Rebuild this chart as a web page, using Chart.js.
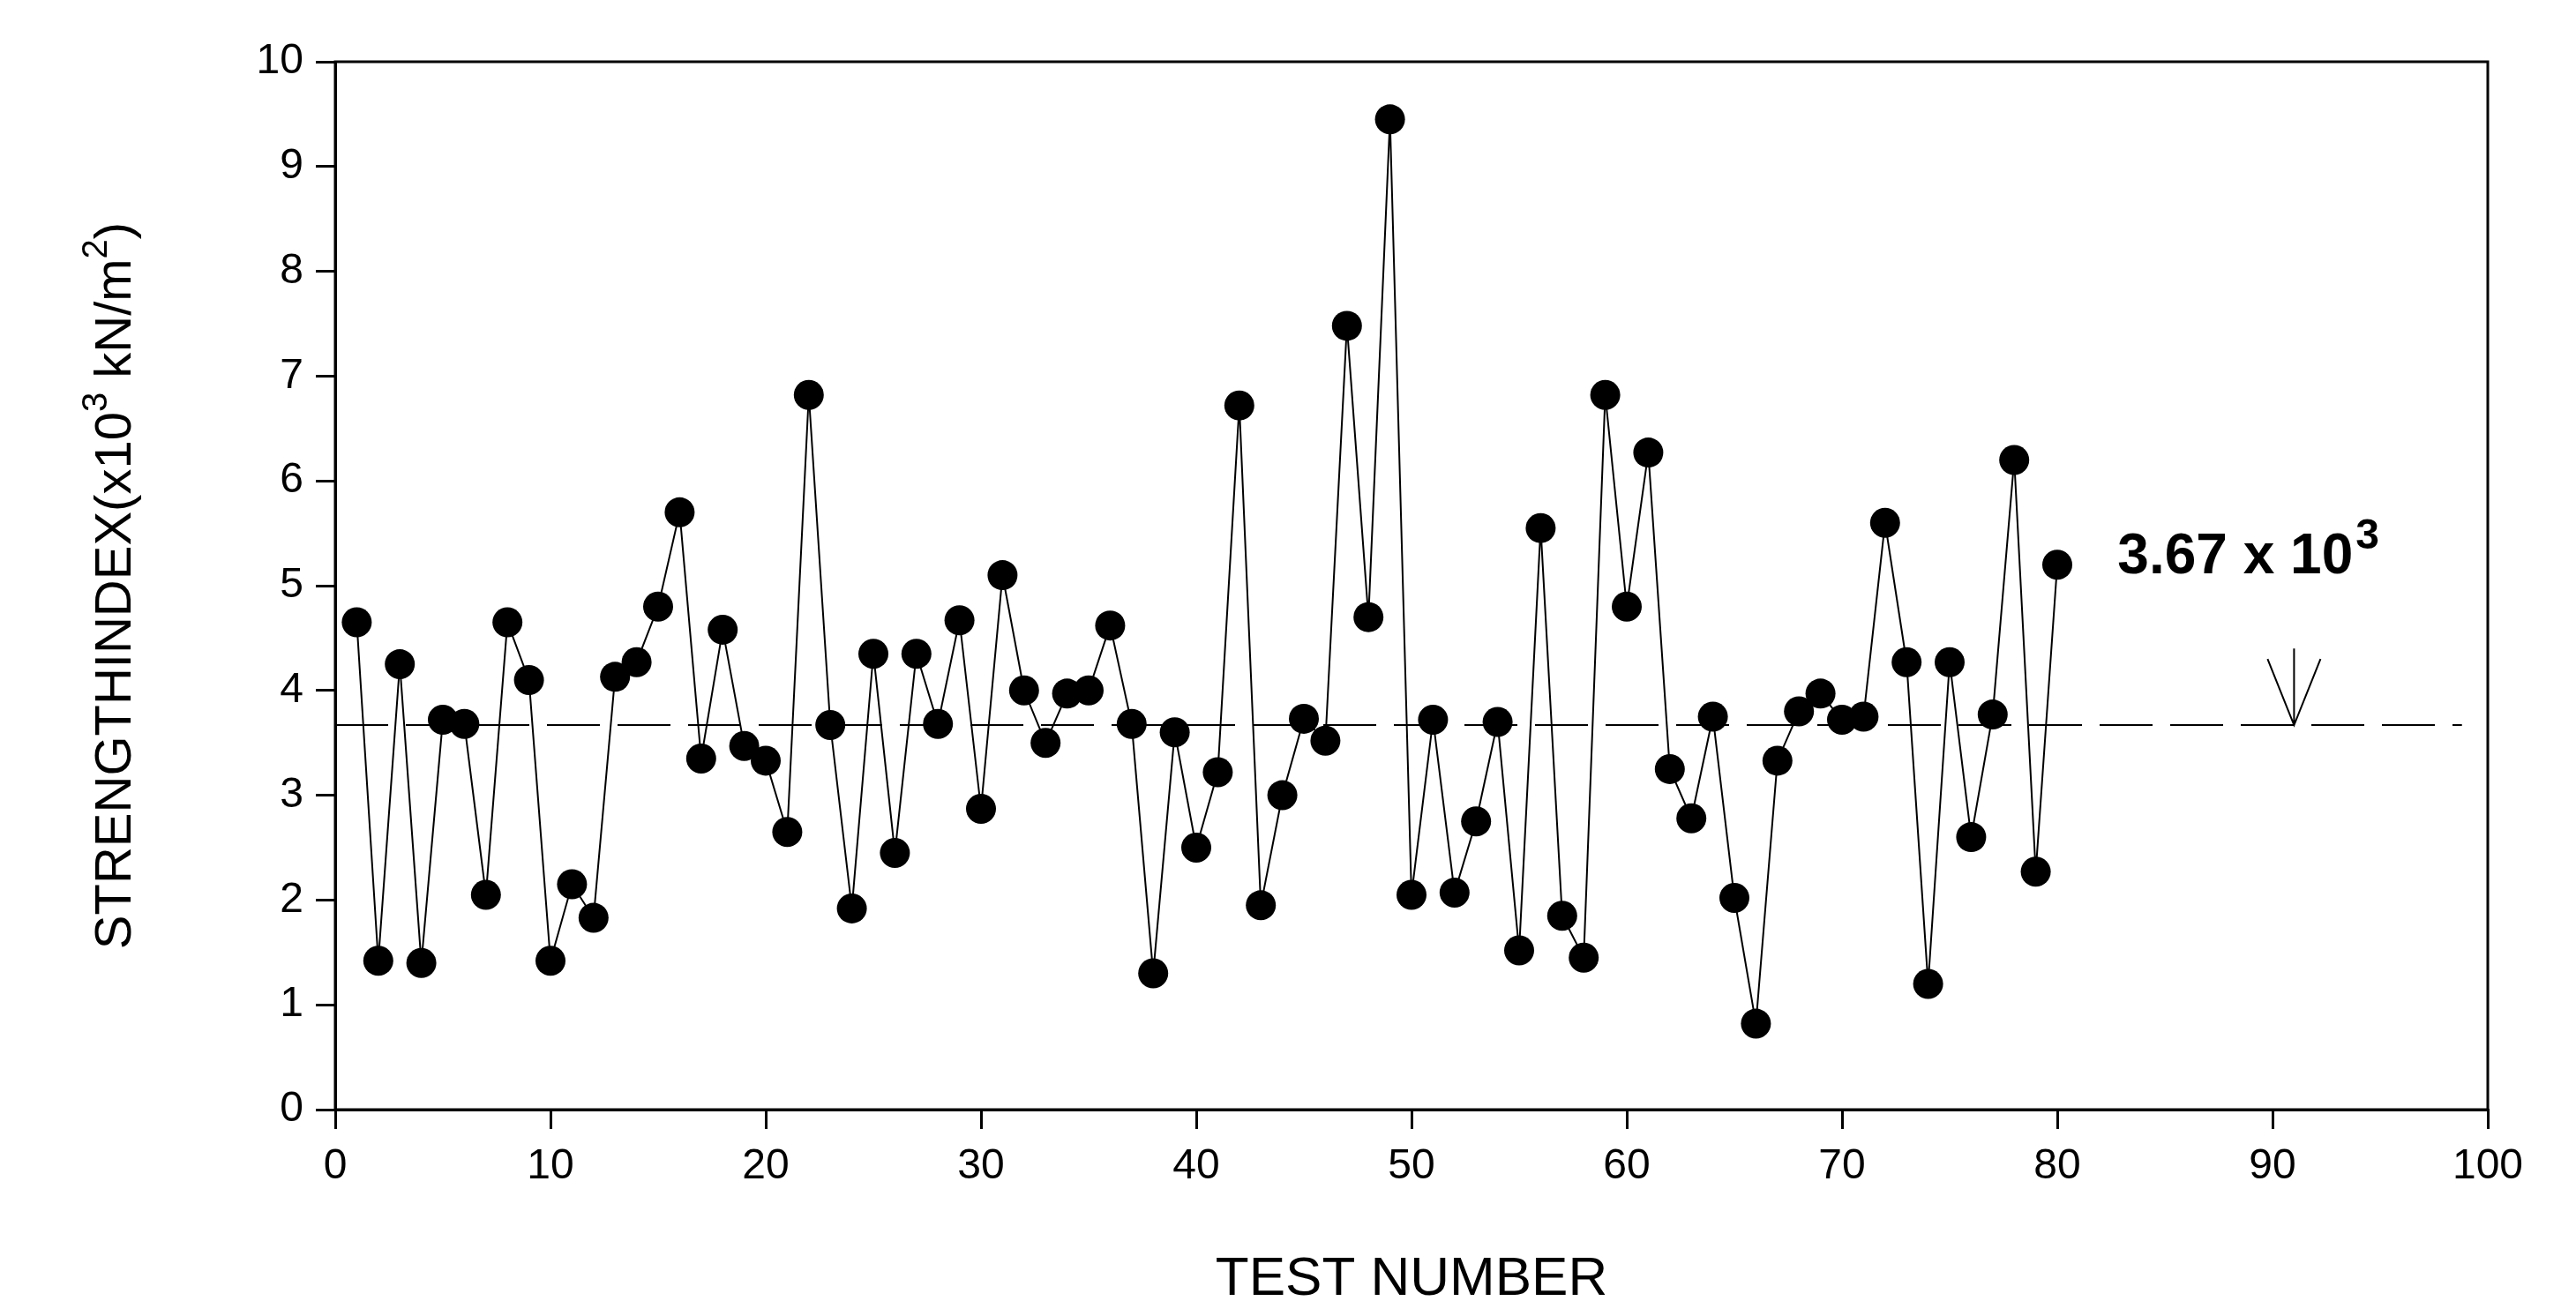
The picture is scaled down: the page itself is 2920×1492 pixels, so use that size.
<!DOCTYPE html>
<html><head><meta charset="utf-8">
<script src="https://cdn.jsdelivr.net/npm/chart.js@4/dist/chart.umd.min.js"></script>
<style>html,body{margin:0;padding:0;background:#fff}#wrap{width:2920px;height:1492px}</style>
</head><body><div id="wrap"><canvas id="c"></canvas></div>
<script>
const testNumbers = Array.from({length:80},(_,i)=>i+1);
const strengthIndex = [4.65,1.42,4.25,1.4,3.72,3.68,2.05,4.65,4.1,1.42,2.15,1.83,4.13,4.27,4.8,5.7,3.35,4.58,3.47,3.33,
2.65,6.82,3.67,1.92,4.35,2.45,4.35,3.68,4.67,2.87,5.1,4.0,3.5,3.97,4.0,4.62,3.68,1.3,3.6,2.5,
3.22,6.72,1.95,3.0,3.73,3.52,7.48,4.7,9.45,2.05,3.72,2.07,2.75,3.7,1.52,5.55,1.85,1.45,6.82,4.8,
6.27,3.25,2.78,3.75,2.02,0.82,3.33,3.8,3.97,3.72,3.75,5.6,4.27,1.2,4.27,2.6,3.77,6.2,2.27,5.2];
const meanValue = 3.67;
const meanLineX = [0, 98.8];
const arrowX = 91;
const xTicks = [0,10,20,30,40,50,60,70,80,90,100];
const yTicks = [0,1,2,3,4,5,6,7,8,9,10];
const FONT = '"Liberation Sans", Arial, sans-serif';

const deco = {
  id:'deco',
  afterDraw(ch){
    const {ctx, scales:{x,y}, chartArea:a} = ch;
    ctx.save();
    ctx.strokeStyle='#000'; ctx.lineWidth=3;
    ctx.strokeRect(a.left,a.top,a.right-a.left,a.bottom-a.top);
    const ax=x.getPixelForValue(arrowX), y0=y.getPixelForValue(4.4), y1=y.getPixelForValue(meanValue);
    ctx.lineWidth=2;
    ctx.beginPath(); ctx.moveTo(ax,y0); ctx.lineTo(ax,y1);
    ctx.moveTo(ax-30,y.getPixelForValue(4.3)); ctx.lineTo(ax,y1); ctx.lineTo(ax+30,y.getPixelForValue(4.3));
    ctx.stroke();
    ctx.fillStyle='#000'; ctx.textBaseline='alphabetic';
    ctx.font='bold 64px '+FONT;
    const tx=x.getPixelForValue(82.8), ty=y.getPixelForValue(5.12);
    const t1='3.67 x 10'; ctx.fillText(t1,tx,ty);
    const w=ctx.measureText(t1).width;
    ctx.font='bold 48px '+FONT; ctx.fillText('3',tx+w+3,ty-28);
    ctx.translate(132,(a.top+a.bottom)/2);
    ctx.rotate(-Math.PI/2);
    const parts=[['STRENGTHINDEX(x10',0],['3',1],[' kN/m',0],['2',1],[')',0]];
    let total=0;
    parts.forEach(([s,sup])=>{ctx.font=(sup?'40px ':'58px ')+FONT; total+=ctx.measureText(s).width;});
    let px=-total/2;
    ctx.textBaseline='middle';
    parts.forEach(([s,sup])=>{ctx.font=(sup?'40px ':'58px ')+FONT; ctx.fillText(s,px,sup?-22:0); px+=ctx.measureText(s).width;});
    ctx.restore();
  }
};

new Chart(document.getElementById('c'),{
  type:'scatter',
  data:{datasets:[
    {data:testNumbers.map((t,i)=>({x:t,y:strengthIndex[i]})),showLine:true,borderColor:'#000',borderWidth:2,
     backgroundColor:'#000',pointRadius:17,pointHoverRadius:17,pointBorderWidth:0},
    {data:meanLineX.map(v=>({x:v,y:meanValue})),showLine:true,borderColor:'#000',borderWidth:2,borderDash:[60,20],pointRadius:0}
  ]},
  options:{
    responsive:true,maintainAspectRatio:false,animation:false,devicePixelRatio:1,
    layout:{padding:{top:70,right:100,bottom:0,left:0}},
    plugins:{legend:{display:false},tooltip:{enabled:false}},
    scales:{
      x:{type:'linear',min:0,max:100,afterBuildTicks:s=>{s.ticks=xTicks.map(v=>({value:v}));},
        afterFit:s=>{s.height=1492-1258;},
        border:{display:true,color:'#000',width:3},
        grid:{drawOnChartArea:false,drawTicks:true,tickLength:22,color:'#000',lineWidth:3},
        ticks:{color:'#000',font:{size:48,family:FONT},padding:14,maxRotation:0},
        title:{display:true,text:'TEST NUMBER',color:'#000',font:{size:62,family:FONT},padding:{top:34}}},
      y:{type:'linear',min:0,max:10,afterBuildTicks:s=>{s.ticks=yTicks.map(v=>({value:v}));},
        afterFit:s=>{s.width=380;},
        border:{display:true,color:'#000',width:3},
        grid:{drawOnChartArea:false,drawTicks:true,tickLength:22,color:'#000',lineWidth:3},
        ticks:{color:'#000',font:{size:48,family:FONT},padding:14}}
    }
  },
  plugins:[deco]
});
</script></body></html>
